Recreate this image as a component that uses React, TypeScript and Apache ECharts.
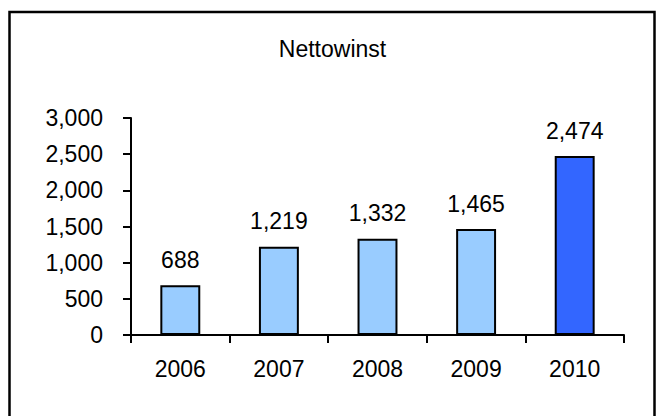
import React, { useEffect, useRef } from "react";
import * as echarts from "echarts";

const years = ["2006", "2007", "2008", "2009", "2010"];
const netProfit = [688, 1219, 1332, 1465, 2474];
const barColors = ["#99CCFF", "#99CCFF", "#99CCFF", "#99CCFF", "#3366FF"];
const chartTitle = "Nettowinst";

const FONT = "'Liberation Sans', Arial, sans-serif";
const FS = 23;
const fmt = (v: number) => v.toLocaleString("en-US");

export default function App() {
  const ref = useRef<HTMLDivElement>(null);
  useEffect(() => {
    if (!ref.current) return;
    const chart = echarts.init(ref.current, undefined, { renderer: "svg" });
    chart.setOption({
      animation: false,
      backgroundColor: "#ffffff",
      textStyle: { fontFamily: FONT },
      graphic: [
        {
          type: "rect",
          shape: { x: 9.5, y: 12, width: 645, height: 430 },
          style: { fill: "none", stroke: "#000", lineWidth: 2.5 },
          silent: true,
        },
        {
          type: "text",
          x: 332.5,
          y: 49,
          style: {
            text: chartTitle,
            fontFamily: FONT,
            fontSize: FS,
            fill: "#000",
            textAlign: "center",
            verticalAlign: "middle",
          },
        },
      ],
      grid: { left: 131, right: 32, top: 118, bottom: 81, containLabel: false },
      xAxis: {
        type: "category",
        data: years,
        boundaryGap: true,
        axisLine: { lineStyle: { color: "#000", width: 2 } },
        axisTick: { show: true, alignWithLabel: false, length: 8, inside: false, lineStyle: { color: "#000", width: 2 } },
        axisLabel: { color: "#000", fontSize: FS, fontFamily: FONT, margin: 22 },
        splitLine: { show: false },
      },
      yAxis: {
        type: "value",
        min: 0,
        max: 3000,
        interval: 500,
        axisLine: { show: true, lineStyle: { color: "#000", width: 2 } },
        axisTick: { show: true, length: 8, inside: false, lineStyle: { color: "#000", width: 2 } },
        axisLabel: { color: "#000", fontSize: FS, fontFamily: FONT, margin: 28, formatter: (v: number) => fmt(v) },
        splitLine: { show: false },
      },
      series: [
        {
          type: "bar",
          data: netProfit.map((v, i) => ({
            value: v,
            itemStyle: { color: barColors[i] },
          })),
          barWidth: "40.5%",
          itemStyle: { borderColor: "#000", borderWidth: 2 },
          label: {
            show: true,
            position: "top",
            distance: 14,
            color: "#000",
            fontSize: FS,
            fontFamily: FONT,
            formatter: (p: any) => fmt(p.value),
          },
        },
      ],
    });
    return () => chart.dispose();
  }, []);
  return (
    <div
      ref={ref}
      style={{ position: "fixed", left: 0, top: 0, width: 656, height: 416, background: "#fff" }}
    />
  );
}
